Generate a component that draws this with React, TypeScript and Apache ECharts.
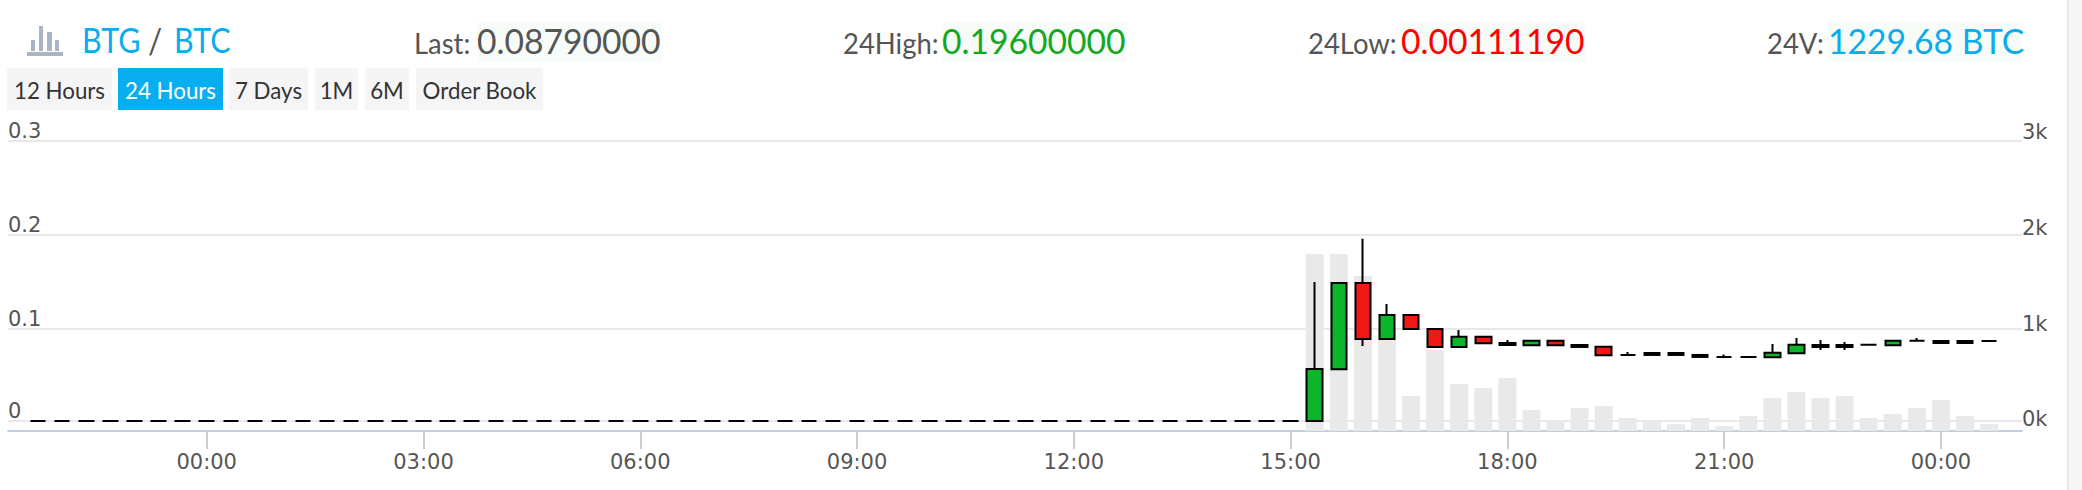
import React, { useEffect, useRef } from "react";
import * as echarts from "echarts";

// minutes from the midnight labelled 00:00 (negative = previous evening)
const times = [
  -140, -120, -100, -80, -60, -40, -20, 0, 20, 40, 60, 80, 100, 120, 140, 160, 180, 200, 220, 240,
  260, 280, 300, 320, 340, 360, 380, 400, 420, 440, 460, 480, 500, 520, 540, 560, 580, 600, 620, 640,
  660, 680, 700, 720, 740, 760, 780, 800, 820, 840, 860, 880, 900, 920, 940, 960, 980, 1000, 1020,
  1040, 1060, 1080, 1100, 1120, 1140, 1160, 1180, 1200, 1220, 1240, 1260, 1280, 1300, 1320, 1340,
  1360, 1380, 1400, 1420, 1440, 1460, 1480,
];
const f = 0.0021;
const opens = [
  f, f, f, f, f, f, f, f, f, f, f, f, f, f, f, f, f, f, f, f, f, f, f, f, f, f, f, f, f, f, f, f, f, f, f, f, f, f, f, f, f, f, f, f, f, f, f, f, f, f, f, f, f,
  0.0021, 0.0571, 0.1489, 0.0894, 0.1149, 0.1, 0.0809, 0.0918, 0.085, 0.0826, 0.0876, 0.083, 0.0812, 0.0723, 0.0745, 0.0745,
  0.0724, 0.0702, 0.0702, 0.0699, 0.0741, 0.083, 0.083, 0.0833, 0.0826, 0.0876, 0.0873, 0.0873, 0.0873,
];
const closes = [
  f, f, f, f, f, f, f, f, f, f, f, f, f, f, f, f, f, f, f, f, f, f, f, f, f, f, f, f, f, f, f, f, f, f, f, f, f, f, f, f, f, f, f, f, f, f, f, f, f, f, f, f, f,
  0.0574, 0.1489, 0.0894, 0.1149, 0.1, 0.0809, 0.0918, 0.0848, 0.0829, 0.0876, 0.0826, 0.0809, 0.072, 0.0723, 0.0724, 0.0724,
  0.0703, 0.0702, 0.0702, 0.0748, 0.0833, 0.0809, 0.0809, 0.0833, 0.0876, 0.0876, 0.0851, 0.0851, 0.0873,
];
const lows = [
  f, f, f, f, f, f, f, f, f, f, f, f, f, f, f, f, f, f, f, f, f, f, f, f, f, f, f, f, f, f, f, f, f, f, f, f, f, f, f, f, f, f, f, f, f, f, f, f, f, f, f, f, f,
  0.0021, 0.0571, 0.0819, 0.0894, 0.1, 0.0809, 0.0809, 0.0848, 0.0829, 0.0826, 0.0826, 0.0809, 0.072, 0.0723, 0.0724, 0.0724,
  0.0703, 0.0702, 0.0702, 0.0699, 0.0741, 0.0777, 0.0777, 0.0833, 0.0826, 0.0876, 0.0851, 0.0851, 0.0873,
];
const highs = [
  f, f, f, f, f, f, f, f, f, f, f, f, f, f, f, f, f, f, f, f, f, f, f, f, f, f, f, f, f, f, f, f, f, f, f, f, f, f, f, f, f, f, f, f, f, f, f, f, f, f, f, f, f,
  0.15, 0.1489, 0.196, 0.1266, 0.1149, 0.1, 0.0989, 0.0918, 0.0883, 0.0876, 0.0876, 0.083, 0.0812, 0.0755, 0.0745, 0.0745,
  0.0724, 0.073, 0.0702, 0.084, 0.0904, 0.0883, 0.0862, 0.0833, 0.0876, 0.0904, 0.0873, 0.0873, 0.0873,
];
const volumes = [
  -85, -85, -85, -85, -85, -85, -85, -85, -85, -85, -85, -85, -85, -85, -85, -85, -85, -85, -85, -85,
  -85, -85, -85, -85, -85, -85, -85, -85, -85, -85, -85, -85, -85, -85, -85, -85, -85, -85, -85, -85,
  -85, -85, -85, -85, -85, -85, -85, -85, -85, -85, -85, -85, -85,
  1798, 1798, 1564, 1000, 287, 777, 415, 372, 479, 138, 32, 160, 181, 53, 32, -11,
  53, -32, 74, 266, 330, 266, 287, 53, 96, 160, 245, 74, -11,
];
const xTicks = [0, 180, 360, 540, 720, 900, 1080, 1260, 1440];
const priceTicks = [0.0021, 0.1, 0.2, 0.3];
const priceTickLabels = ["0", "0.1", "0.2", "0.3"];
const volumeTicks = [-74, 939, 1960, 2982];
const volumeTickLabels = ["0k", "1k", "2k", "3k"];
const buttons = ["12 Hours", "24 Hours", "7 Days", "1M", "6M", "Order Book"];
const pair = ["BTG", "/", "BTC"];
const stats = [
  { label: "Last:", value: "0.08790000" },
  { label: "24High:", value: "0.19600000" },
  { label: "24Low:", value: "0.00111190" },
  { label: "24V:", value: "1229.68 BTC" },
];

const FONT = "Lato";
const AXIS_FONT = "DejaVu Sans";
const GRAY = "#555555";
const BLUE = "#0aaced";

function txt(text: string, x: number, y: number, size: number, fill: string, sx = 1, align = "left") {
  return {
    type: "text",
    x,
    y,
    scaleX: sx,
    z: 10,
    silent: true,
    style: { text, fill, fontFamily: FONT, fontSize: size, align, verticalAlign: "middle" },
  };
}
function box(x: number, y: number, width: number, height: number, fill: string) {
  return { type: "rect", shape: { x, y, width, height }, style: { fill }, silent: true, z: 5 };
}

export default function App() {
  const ref = useRef<HTMLDivElement>(null);
  useEffect(() => {
    const chart = echarts.init(ref.current!, undefined, { renderer: "svg" });
    const btnGeom = [
      [7, 105], [118, 105], [229, 79], [315, 43], [365, 44], [416, 127],
    ];
    const statGeom = [
      { lx: 414, vx: 477, vw: 184, col: GRAY },
      { lx: 843, vx: 942, vw: 185, col: "#14a81e" },
      { lx: 1308, vx: 1401, vw: 184, col: "#ff0000" },
      { lx: 1767, vx: 1828, vw: 193, col: BLUE },
    ];
    const graphicEls: any[] = [
      box(2067, 0, 2, 490, "#e6e6e6"),
      box(2069, 0, 13, 490, "#f7f7f7"),
      box(27, 52, 36, 4, "#a9b4c4"),
      box(31, 40, 4, 11, "#a9b4c4"),
      box(39, 26, 4, 25, "#a9b4c4"),
      box(47, 32, 5, 19, "#a9b4c4"),
      box(55, 40, 4, 11, "#a9b4c4"),
      txt(pair[0], 82, 40, 35, BLUE, 0.87),
      txt(pair[1], 148, 40, 35, GRAY, 0.9),
      txt(pair[2], 174, 40, 35, BLUE, 0.87),
    ];
    stats.forEach((s, i) => {
      const g = statGeom[i];
      graphicEls.push(box(g.vx, 22, g.vw, 40, "#f8fcf8"));
      graphicEls.push(txt(s.label, g.lx, 43, 28, GRAY, 0.98));
      graphicEls.push(txt(s.value, g.vx, 41, 34, g.col, 0.99));
    });
    buttons.forEach((b, i) => {
      const [x, w] = btnGeom[i];
      const active = i === 1;
      graphicEls.push(box(x, 68, w, 42, active ? "#09aef0" : "#f5f5f5"));
      graphicEls.push(txt(b, x + w / 2, 90, 24, active ? "#ffffff" : "#333333", 0.93, "center"));
    });

    chart.setOption({
      animation: false,
      backgroundColor: "#ffffff",
      graphic: { elements: graphicEls },
      grid: { left: 8, right: 60, top: 141, bottom: 59, containLabel: false },
      xAxis: {
        type: "value",
        min: -165,
        max: 1507.3,
        splitLine: { show: false },
        axisLine: { onZero: false, lineStyle: { color: "#c0d0e0", width: 2 } },
        axisTick: { customValues: xTicks, length: 18, lineStyle: { color: "#cccccc", width: 2 } },
        axisLabel: {
          customValues: xTicks,
          margin: 20,
          color: GRAY,
          fontFamily: AXIS_FONT,
          fontSize: 21,
          formatter: (v: number) => {
            const h = Math.floor(v / 60) % 24;
            return `${String(h).padStart(2, "0")}:00`;
          },
        },
      },
      yAxis: [
        {
          type: "value",
          min: -0.0085,
          max: 0.3,
          position: "left",
          axisLine: { show: false },
          axisTick: { show: false, customValues: priceTicks },
          splitLine: { show: true, lineStyle: { color: "#e8e8e8", width: 2 } },
          axisLabel: {
            customValues: priceTicks,
            inside: true,
            margin: 0,
            align: "left",
            verticalAlign: "bottom",
            color: GRAY,
            fontFamily: AXIS_FONT,
            fontSize: 21,
            formatter: (v: number) => priceTickLabels[priceTicks.indexOf(v)],
          },
        },
        {
          type: "value",
          min: -85,
          max: 3000,
          position: "right",
          axisLine: { show: false },
          axisTick: { show: false, customValues: volumeTicks },
          splitLine: { show: false },
          axisLabel: {
            customValues: volumeTicks,
            margin: 0,
            align: "left",
            verticalAlign: "bottom",
            color: GRAY,
            fontFamily: AXIS_FONT,
            fontSize: 21,
            formatter: (v: number) => volumeTickLabels[volumeTicks.indexOf(v)],
          },
        },
      ],
      series: [
        {
          type: "custom",
          yAxisIndex: 1,
          z: 2,
          encode: { x: 0, y: 1 },
          data: times.map((t, i) => [t, volumes[i]]),
          renderItem: (_p: any, api: any) => {
            const v = api.value(1);
            if (v <= -85) return null;
            const top = api.coord([api.value(0), v]);
            const bottom = api.coord([api.value(0), -85]);
            return {
              type: "rect",
              shape: { x: top[0] - 9, y: top[1], width: 18, height: bottom[1] - top[1] },
              style: { fill: "#e9e9e9" },
            };
          },
        },
        {
          type: "candlestick",
          yAxisIndex: 0,
          z: 3,
          barWidth: 16,
          encode: { x: 0, y: [1, 2, 3, 4] },
          data: times.map((t, i) => [t, opens[i], closes[i], lows[i], highs[i]]),
          itemStyle: {
            color: "#0db52b",
            color0: "#f21818",
            borderColor: "#000000",
            borderColor0: "#000000",
            borderColorDoji: "#000000",
            borderWidth: 2,
          },
        },
      ],
    });
    return () => chart.dispose();
  }, []);
  return <div ref={ref} style={{ position: "absolute", left: 0, top: 0, width: 2082, height: 490 }} />;
}
